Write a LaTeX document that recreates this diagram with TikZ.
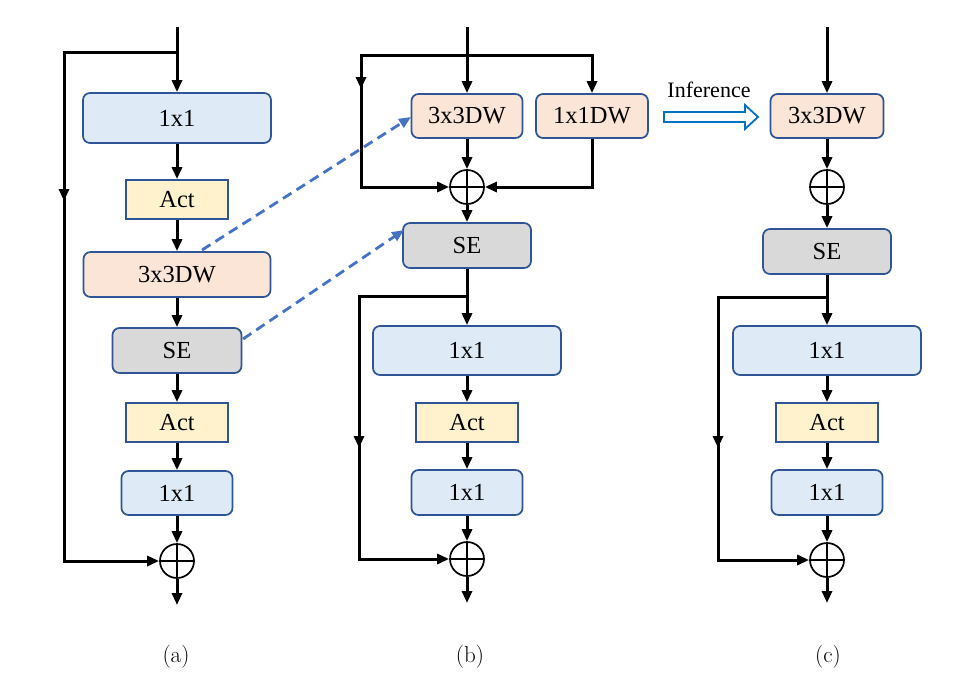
\documentclass[tikz,border=0pt]{standalone}
\usepackage{fontspec}
\usetikzlibrary{arrows.meta,decorations.markings}
\newfontfamily\tnr{Liberation Serif}
\definecolor{convc}{HTML}{DEEBF7}
\definecolor{dwc}{HTML}{FBE5D6}
\definecolor{sec}{HTML}{D9D9D9}
\definecolor{actc}{HTML}{FFF2CC}
\definecolor{bord}{HTML}{2F5597}
\definecolor{dashc}{HTML}{4472C4}
\definecolor{infc}{HTML}{0070C0}
\tikzset{
  blk/.style={draw=bord, line width=1.7pt, rounded corners=7pt, inner sep=0pt,
    font=\tnr\fontsize{24.5}{28}\selectfont},
  conv/.style={blk, fill=convc},
  dwb/.style={blk, fill=dwc},
  seb/.style={blk, fill=sec},
  actb/.style={blk, rounded corners=0pt, fill=actc},
  sz/.style 2 args={minimum width=#1pt, minimum height=#2pt},
  addn/.style={circle, draw, line width=1.7pt, minimum size=34pt, inner sep=0pt,
    path picture={\draw[line width=2.2pt] (path picture bounding box.north) -- (path picture bounding box.south)
      (path picture bounding box.west) -- (path picture bounding box.east);}},
  ln/.style={line width=3pt},
  arr/.style={ln, -{Triangle[length=12pt,width=10pt]}},
  midmark/.style={postaction={decorate}, decoration={markings,
    mark=at position #1 with {\arrow{Triangle[length=12pt,width=10pt]}}}},
  dasharr/.style={line width=2.8pt, draw=dashc, dash pattern=on 10pt off 6pt,
    -{Triangle[length=12pt,width=10pt,fill=dashc]}},
  lbl/.style={font=\fontsize{23}{27}\selectfont},
}
\begin{document}
\begin{tikzpicture}[x=1pt,y=-1pt]
\useasboundingbox[fill=white] (0,0) rectangle (958,696);

% ---------- panel (a)
\node[conv, sz={188}{50}] (a1) at (177,118) {1x1};
\node[actb, sz={102}{39}] (aA1) at (177,199.5) {Act};
\node[dwb, sz={187}{45}] (a3) at (177,274.5) {3x3DW};
\node[seb, sz={129}{45}] (aSE) at (177,350.5) {SE};
\node[actb, sz={102}{39}] (aA2) at (177,422.5) {Act};
\node[conv, sz={111}{44}] (a4) at (177,493) {1x1};
\node[addn] (ap) at (177,561) {};
\coordinate (a_in) at (177,27);
\coordinate (a_br) at (177,52);
\coordinate (a_tl) at (64,52);
\coordinate (a_bl) at (64,561);
\coordinate (a_out) at (177,605);
\draw[arr] (a_in) -- (a1.north);
\draw[arr] (a1.south) -- (aA1.north);
\draw[arr] (aA1.south) -- (a3.north);
\draw[arr] (a3.south) -- (aSE.north);
\draw[arr] (aSE.south) -- (aA2.north);
\draw[arr] (aA2.south) -- (a4.north);
\draw[arr] (a4.south) -- (ap.north);
\draw[arr] (ap.south) -- (a_out);
\draw[arr, midmark=262pt] (a_br) -- (a_tl) -- (a_bl) -- (ap.west);

% ---------- panel (b)
\node[dwb, sz={111}{44}] (b3) at (467,116) {3x3DW};
\node[dwb, sz={112}{44}] (b1dw) at (592,116) {1x1DW};
\node[addn] (bp1) at (467,187) {};
\node[seb, sz={128}{45}] (bSE) at (467,245.5) {SE};
\node[conv, sz={188}{49}] (b1) at (467,350.5) {1x1};
\node[actb, sz={102}{39}] (bA) at (467,422.5) {Act};
\node[conv, sz={111}{45}] (b4) at (467,492.5) {1x1};
\node[addn] (bp2) at (467,559) {};
\coordinate (b_in) at (467,27);
\coordinate (b_br) at (467,55);
\coordinate (b_tl) at (361,55);
\coordinate (b_tr) at (592,55);
\coordinate (b_bl) at (361,187);
\coordinate (b_br2) at (467,296);
\coordinate (b_tl2) at (359,296);
\coordinate (b_bl2) at (359,559);
\coordinate (b_out) at (467,603);
\draw[arr] (b_in) -- (b3.north);
\draw[arr] (b_br) -- (b_tr) -- (b1dw.north);
\draw[arr, midmark=140pt] (b_br) -- (b_tl) -- (b_bl) -- (bp1.west);
\draw[arr] (b1dw.south) |- (bp1.east);
\draw[arr] (b3.south) -- (bp1.north);
\draw[arr] (bp1.south) -- (bSE.north);
\draw[arr] (bSE.south) -- (b1.north);
\draw[arr] (b1.south) -- (bA.north);
\draw[arr] (bA.south) -- (b4.north);
\draw[arr] (b4.south) -- (bp2.north);
\draw[arr] (bp2.south) -- (b_out);
\draw[arr, midmark=260pt] (b_br2) -- (b_tl2) -- (b_bl2) -- (bp2.west);

% ---------- panel (c)
\node[dwb, sz={113}{44}] (c3) at (827,116) {3x3DW};
\node[addn] (cp1) at (827,187) {};
\node[seb, sz={128}{45}] (cSE) at (827,251.5) {SE};
\node[conv, sz={188}{49}] (c1) at (827,350.5) {1x1};
\node[actb, sz={102}{39}] (cA) at (827,422.5) {Act};
\node[conv, sz={111}{45}] (c4) at (827,492.5) {1x1};
\node[addn] (cp2) at (827,560) {};
\coordinate (c_in) at (827,27);
\coordinate (c_br) at (827,297);
\coordinate (c_tl) at (718,297);
\coordinate (c_bl) at (718,560);
\coordinate (c_out) at (827,603);
\draw[arr] (c_in) -- (c3.north);
\draw[arr] (c3.south) -- (cp1.north);
\draw[arr] (cp1.south) -- (cSE.north);
\draw[arr] (cSE.south) -- (c1.north);
\draw[arr] (c1.south) -- (cA.north);
\draw[arr] (cA.south) -- (c4.north);
\draw[arr] (c4.south) -- (cp2.north);
\draw[arr] (cp2.south) -- (c_out);
\draw[arr, midmark=260pt] (c_br) -- (c_tl) -- (c_bl) -- (cp2.west);

% ---------- inference arrow
\node[font=\tnr\fontsize{22}{26}\selectfont, inner sep=0pt] (inf) at (709,90) {Inference};
\draw[infc, line width=1.8pt, fill=white, line join=miter]
  (664,112) -- (745,112) -- (745,105) -- (758,117) -- (745,129) -- (745,122) -- (664,122) -- cycle;

% ---------- dashed links
\coordinate (d1s) at (202,250);
\coordinate (d1e) at (411,117);
\coordinate (d2s) at (243,339);
\coordinate (d2e) at (404,230);
\draw[dasharr] (d1s) -- (d1e);
\draw[dasharr] (d2s) -- (d2e);

% ---------- captions
\node[lbl] (la) at (176,657) {(a)};
\node[lbl] (lb) at (470,657) {(b)};
\node[lbl] (lc) at (828,657) {(c)};
\end{tikzpicture}
\end{document}
